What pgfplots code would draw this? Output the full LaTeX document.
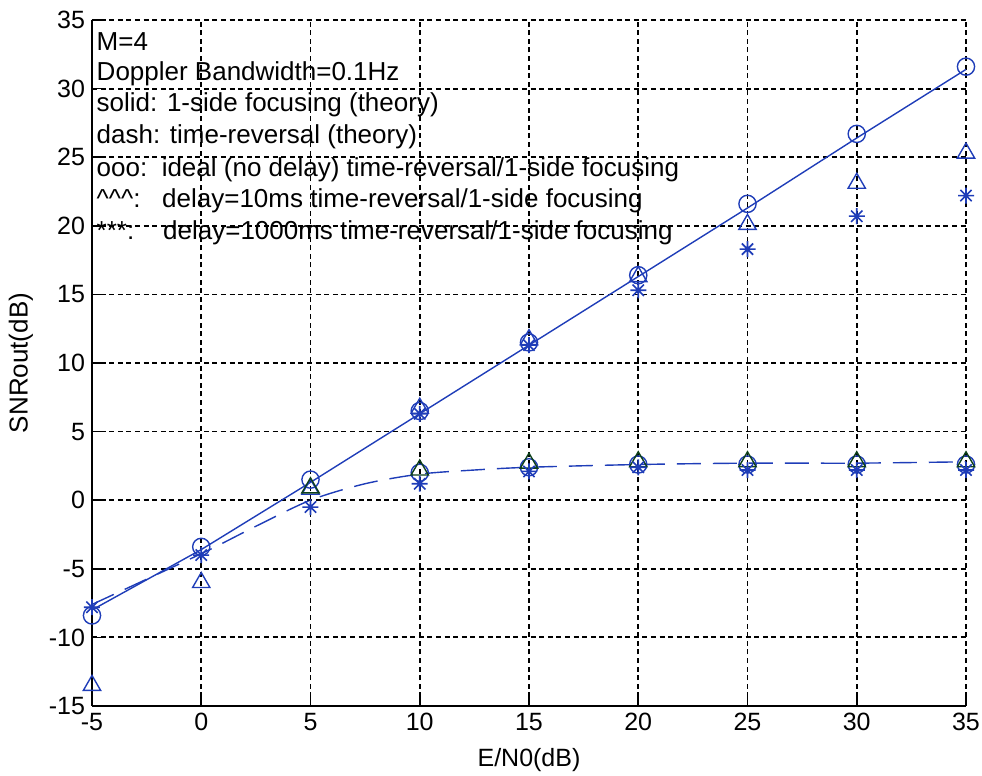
\documentclass[border=0pt]{standalone}
\usepackage{pgfplots}
\pgfplotsset{compat=1.18}
\usepackage{fontspec}
\setmainfont{Liberation Sans}
\definecolor{mblue}{rgb}{0.12,0.24,0.72}
\definecolor{mgreen}{rgb}{0.05,0.25,0.10}
% eight-spoke asterisk: vertical, horizontal and both diagonals
\pgfdeclareplotmark{mstar}{%
  \pgfpathmoveto{\pgfqpoint{0pt}{\pgfplotmarksize}}%
  \pgfpathlineto{\pgfqpoint{0pt}{-\pgfplotmarksize}}%
  \pgfpathmoveto{\pgfqpoint{\pgfplotmarksize}{0pt}}%
  \pgfpathlineto{\pgfqpoint{-\pgfplotmarksize}{0pt}}%
  \pgfpathmoveto{\pgfqpoint{0.707\pgfplotmarksize}{0.707\pgfplotmarksize}}%
  \pgfpathlineto{\pgfqpoint{-0.707\pgfplotmarksize}{-0.707\pgfplotmarksize}}%
  \pgfpathmoveto{\pgfqpoint{-0.707\pgfplotmarksize}{0.707\pgfplotmarksize}}%
  \pgfpathlineto{\pgfqpoint{0.707\pgfplotmarksize}{-0.707\pgfplotmarksize}}%
  \pgfusepathqstroke}
\begin{document}
\begin{tikzpicture}
\begin{axis}[
  scale only axis,
  width=437pt, height=343pt,
  xmin=-5, xmax=35, ymin=-15, ymax=35,
  xtick={-5,0,...,35}, ytick={-15,-10,...,35},
  axis x line*=bottom, axis y line*=left,
  tick align=inside, xtick pos=bottom, ytick pos=left,
  major tick length=5pt,
  tick style={black, line width=0.8pt},
  ticklabel style={font=\fontsize{12.5}{14}\selectfont},
  /pgf/number format/assume math mode=true,
  grid=major,
  major grid style={black, dash pattern=on 2.5pt off 1.8pt, line width=0.9pt},
  axis line style={black, line width=1pt, -},
  xlabel={E/N0(dB)}, ylabel={SNRout(dB)},
  xlabel style={font=\fontsize{12.5}{14}\selectfont, yshift=-2pt},
  ylabel style={font=\fontsize{13}{15}\selectfont, yshift=1pt},
  clip=false,
]
% theory curves
\addplot[mblue, line width=0.7pt] coordinates {
  (-5,-8.0) (0,-3.6) (5,1.3) (10,6.3) (15,11.3) (20,16.3) (25,21.3) (30,26.4) (35,31.4)};
\addplot[mblue, line width=0.7pt, dash pattern=on 12pt off 6pt, smooth] coordinates {
  (-5,-7.6) (0,-3.9) (2.5,-1.9) (5,0.0) (7.5,1.2) (10,1.9) (12.5,2.2) (15,2.4) (20,2.6) (25,2.7) (30,2.7) (35,2.8)};
% ideal (no delay)
\addplot[only marks, mark=o, mark size=4.3pt, mblue, line width=0.7pt] coordinates {
  (-5,-8.4) (0,-3.4) (5,1.5) (10,6.5) (15,11.5) (20,16.4) (25,21.6) (30,26.7) (35,31.6)};
\addplot[only marks, mark=o, mark size=4.3pt, mblue, line width=0.7pt] coordinates {
  (10,2.0) (15,2.4) (20,2.6) (25,2.6) (30,2.6) (35,2.6)};
% delay = 10 ms
\addplot[only marks, mark=triangle, mark size=5pt, mblue, line width=0.7pt] coordinates {
  (-5,-13.5) (0,-6.0) (5,0.8) (10,6.7) (15,11.7) (20,16.3) (25,20.1) (30,23.1) (35,25.3)};
\addplot[only marks, mark=triangle, mark size=5pt, mgreen, line width=0.7pt] coordinates {
  (5,0.9) (10,2.2) (15,2.7) (20,2.8) (25,2.8) (30,2.8) (35,2.8)};
% delay = 1000 ms
\addplot[only marks, mark=mstar, mark size=4pt, mblue, line width=0.8pt] coordinates {
  (-5,-7.8) (0,-4.0) (5,-0.5) (10,6.3) (15,11.3) (20,15.3) (25,18.3) (30,20.7) (35,22.2)};
\addplot[only marks, mark=mstar, mark size=4pt, mblue, line width=0.8pt] coordinates {
  (10,1.2) (15,2.1) (20,2.4) (25,2.2) (30,2.2) (35,2.2)};
% annotations
\begin{scope}[every node/.style={anchor=west, inner sep=0pt, font=\fontsize{13}{15}\selectfont}]
\node at (axis cs:-5,33.4) {\,M=4};
\node at (axis cs:-5,31.1) {\,Doppler Bandwidth=0.1Hz};
\node at (axis cs:-5,28.8) {\,solid: 1-side focusing (theory)};
\node at (axis cs:-5,26.5) {\,dash: time-reversal (theory)};
\node at (axis cs:-5,24.1) {\,ooo:\ \ ideal (no delay) time-reversal/1-side focusing};
\node at (axis cs:-5,21.8) {\,\textasciicircum\textasciicircum\textasciicircum :\ \ \ delay=10ms time-reversal/1-side focusing};
\node at (axis cs:-5,19.5) {\,***:\ \ \ \ delay=1000ms time-reversal/1-side focusing};
\end{scope}
\end{axis}
\pgfresetboundingbox
\useasboundingbox ([shift={(-46pt,-35pt)}]current axis.south west) rectangle ([shift={(8pt,10pt)}]current axis.north east);
\end{tikzpicture}
\end{document}
